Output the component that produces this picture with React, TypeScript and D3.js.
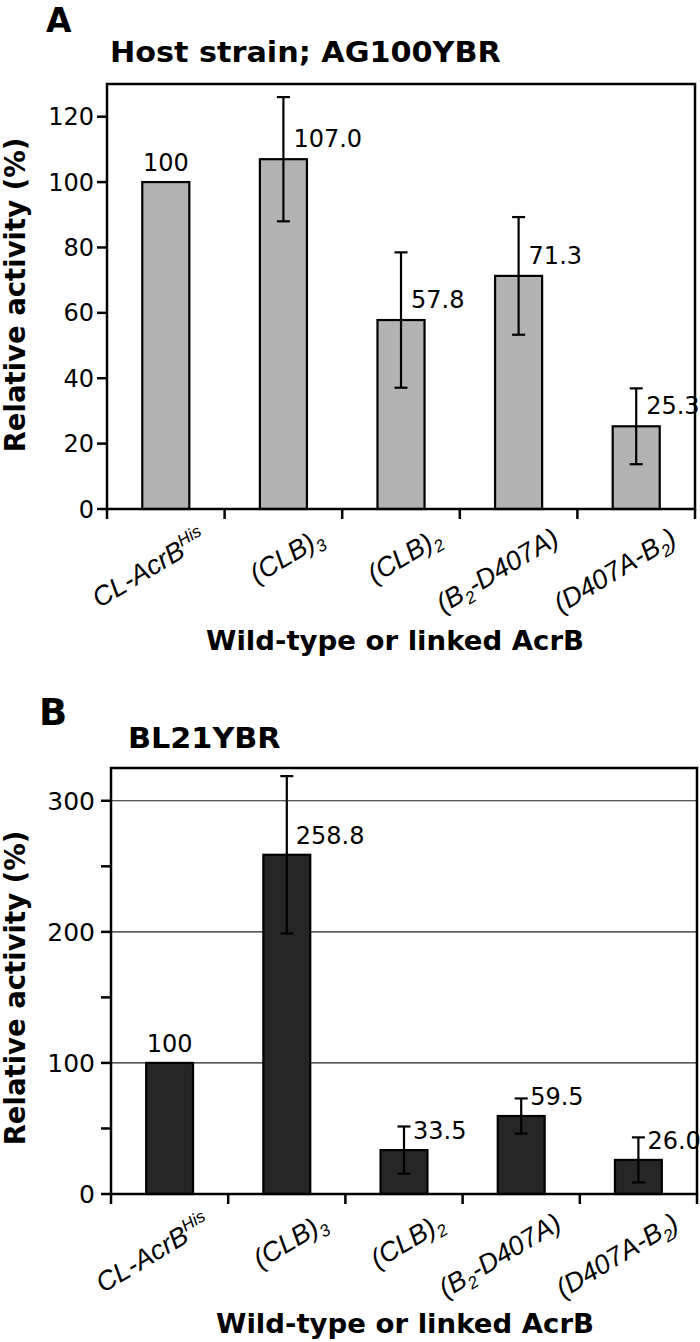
import React from "react";
import * as d3 from "d3";

type Part = { t: string; k?: "sub" | "sup" };

const categories: Part[][] = [
  [{ t: "CL-AcrB" }, { t: "His", k: "sup" }],
  [{ t: "(CLB)" }, { t: "3", k: "sub" }],
  [{ t: "(CLB)" }, { t: "2", k: "sub" }],
  [{ t: "(B" }, { t: "2", k: "sub" }, { t: "-D407A)" }],
  [{ t: "(D407A-B" }, { t: "2", k: "sub" }, { t: ")" }],
];

const valuesA = [100, 107.0, 57.8, 71.3, 25.3];
const errorsA = [0, 19.0, 20.7, 18.0, 11.6];
const labelsA = ["100", "107.0", "57.8", "71.3", "25.3"];
const ticksA = [0, 20, 40, 60, 80, 100, 120];

const valuesB = [100, 258.8, 33.5, 59.5, 26.0];
const errorsB = [0, 60.0, 18.0, 13.4, 17.2];
const labelsB = ["100", "258.8", "33.5", "59.5", "26.0"];
const ticksB = [0, 100, 200, 300];
const minorTicksB = [50, 150, 250];

const SANS = "'DejaVu Sans', Verdana, sans-serif";
const ARIAL = "'Liberation Sans', Arial, sans-serif";

function CatLabel({ parts, x, y }: { parts: Part[]; x: number; y: number }) {
  let shift = 0;
  return (
    <text
      transform={`translate(${x},${y}) rotate(-31)`}
      textAnchor="end"
      fontFamily={ARIAL}
      fontStyle="italic"
      fontSize={27}
      fill="#000"
    >
      {parts.map((p, i) => {
        let target = 0;
        let fs: number | undefined = undefined;
        if (p.k === "sub") {
          target = 6;
          fs = 17;
        } else if (p.k === "sup") {
          target = -10;
          fs = 17;
        }
        const dy = target - shift;
        shift = target;
        return (
          <tspan key={i} dy={dy} fontSize={fs}>
            {p.t}
          </tspan>
        );
      })}
    </text>
  );
}

type PanelProps = {
  left: number;
  right: number;
  top: number;
  bottom: number;
  yMax: number;
  values: number[];
  errors: number[];
  labels: string[];
  ticks: number[];
  minor: number[];
  grid: boolean;
  fill: string;
  title: string;
  titleX: number;
  titleY: number;
  letter: string;
  letterX: number;
  letterY: number;
  letterSize: number;
  yTitleY: number;
  xTitleX: number;
  xTitleY: number;
  tickSize: number;
  tickGap: number;
  lblDx: number;
  lblDy: number;
};

function Panel(p: PanelProps) {
  const xs = d3
    .scaleBand<number>()
    .domain(d3.range(categories.length))
    .range([p.left, p.right])
    .padding(0);
  const ys = d3.scaleLinear().domain([0, p.yMax]).range([p.bottom, p.top]);
  const bw = xs.bandwidth();
  const barW = bw * 0.4;
  const boundaries = d3.range(categories.length + 1).map((i) => p.left + i * bw);

  return (
    <g>
      <text
        x={p.letterX}
        y={p.letterY}
        fontFamily={SANS}
        fontWeight="bold"
        fontSize={p.letterSize}
      >
        {p.letter}
      </text>
      <text
        transform={`translate(${p.titleX},${p.titleY}) scale(1.1,1)`}
        fontFamily={SANS}
        fontWeight="bold"
        fontSize={27.5}
      >
        {p.title}
      </text>

      {p.grid &&
        p.ticks
          .filter((t) => t > 0)
          .map((t) => (
            <line
              key={"g" + t}
              x1={p.left}
              x2={p.right}
              y1={ys(t)}
              y2={ys(t)}
              stroke="#222"
              strokeWidth={1.2}
            />
          ))}

      {p.values.map((v, i) => {
        const cx = (xs(i) as number) + bw / 2;
        return (
          <rect
            key={"b" + i}
            x={cx - barW / 2}
            y={ys(v)}
            width={barW}
            height={ys(0) - ys(v)}
            fill={p.fill}
            stroke="#000"
            strokeWidth={2.2}
          />
        );
      })}

      {p.values.map((v, i) => {
        const e = p.errors[i];
        if (!e) return null;
        const cx = (xs(i) as number) + bw / 2;
        return (
          <g key={"e" + i} stroke="#000" strokeWidth={2.2}>
            <line x1={cx} x2={cx} y1={ys(v + e)} y2={ys(v - e)} />
            <line x1={cx - 6.5} x2={cx + 6.5} y1={ys(v + e)} y2={ys(v + e)} />
            <line x1={cx - 6.5} x2={cx + 6.5} y1={ys(v - e)} y2={ys(v - e)} />
          </g>
        );
      })}

      <rect
        x={p.left}
        y={p.top}
        width={p.right - p.left}
        height={p.bottom - p.top}
        fill="none"
        stroke="#000"
        strokeWidth={2.5}
      />

      {p.ticks.map((t) => (
        <g key={"t" + t}>
          <line
            x1={p.left - 10}
            x2={p.left}
            y1={ys(t)}
            y2={ys(t)}
            stroke="#000"
            strokeWidth={2.5}
          />
          <text
            x={p.left - p.tickGap}
            y={ys(t)}
            dy="0.36em"
            textAnchor="end"
            fontFamily={SANS}
            fontSize={p.tickSize}
          >
            {t}
          </text>
        </g>
      ))}
      {p.minor.map((t) => (
        <line
          key={"m" + t}
          x1={p.left - 10}
          x2={p.left}
          y1={ys(t)}
          y2={ys(t)}
          stroke="#000"
          strokeWidth={2.5}
        />
      ))}

      {boundaries.map((bx, i) => (
        <line
          key={"xt" + i}
          x1={bx}
          x2={bx}
          y1={p.bottom}
          y2={p.bottom + 10}
          stroke="#000"
          strokeWidth={2.5}
        />
      ))}

      {p.values.map((v, i) => {
        const cx = (xs(i) as number) + bw / 2;
        const hasErr = !!p.errors[i];
        return (
          <text
            key={"l" + i}
            x={hasErr ? cx + p.lblDx : cx}
            y={ys(v) - (hasErr ? p.lblDy : 11)}
            textAnchor={hasErr ? "start" : "middle"}
            fontFamily={SANS}
            fontSize={24}
          >
            {p.labels[i]}
          </text>
        );
      })}

      {categories.map((parts, i) => {
        const cx = (xs(i) as number) + bw / 2;
        return <CatLabel key={"c" + i} parts={parts} x={cx + 42} y={p.bottom + 34} />;
      })}

      <text
        transform={`translate(25,${p.yTitleY}) rotate(-90)`}
        textAnchor="middle"
        fontFamily={SANS}
        fontWeight="bold"
        fontSize={27.5}
      >
        Relative activity (%)
      </text>
      <text
        transform={`translate(${p.xTitleX},${p.xTitleY}) scale(1.06,1)`}
        textAnchor="middle"
        fontFamily={SANS}
        fontWeight="bold"
        fontSize={26}
      >
        Wild-type or linked AcrB
      </text>
    </g>
  );
}

export default function App() {
  return (
    <svg
      width={700}
      height={1342}
      viewBox="0 0 700 1342"
      style={{ position: "absolute", left: 0, top: 0, background: "#fff" }}
    >
      <rect x={0} y={0} width={700} height={1342} fill="#fff" />
      <Panel
        left={107}
        right={695}
        top={84}
        bottom={509}
        yMax={130}
        values={valuesA}
        errors={errorsA}
        labels={labelsA}
        ticks={ticksA}
        minor={[]}
        grid={false}
        fill="#b3b3b3"
        title="Host strain; AG100YBR"
        titleX={110}
        titleY={62}
        letter="A"
        letterX={46}
        letterY={32}
        letterSize={33}
        yTitleY={295}
        xTitleX={395}
        xTitleY={650}
        tickSize={24}
        tickGap={13}
        lblDx={10}
        lblDy={12}
      />
      <Panel
        left={111}
        right={697}
        top={768}
        bottom={1194}
        yMax={325}
        values={valuesB}
        errors={errorsB}
        labels={labelsB}
        ticks={ticksB}
        minor={minorTicksB}
        grid={true}
        fill="#262626"
        title="BL21YBR"
        titleX={128}
        titleY={748}
        letter="B"
        letterX={39}
        letterY={725}
        letterSize={37}
        yTitleY={988}
        xTitleX={405}
        xTitleY={1333}
        tickSize={25}
        tickGap={16}
        lblDx={9}
        lblDy={11}
      />
    </svg>
  );
}
